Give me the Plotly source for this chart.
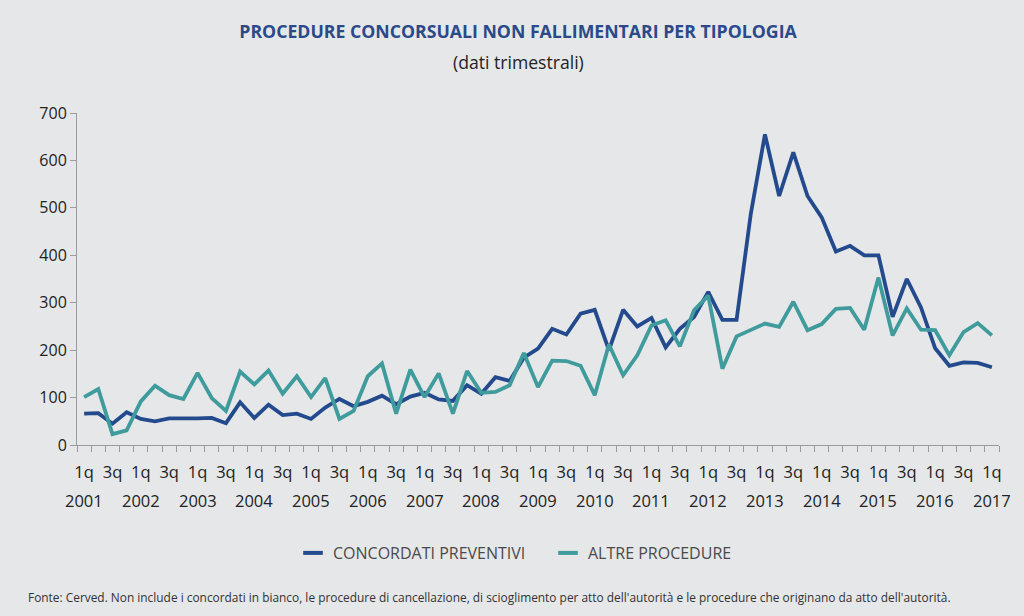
import plotly.graph_objects as go

# ---- data (quarterly, 2001 Q1 .. 2017 Q1) ----
years = list(range(2001, 2018))
quarters = [f"{y} Q{q}" for y in years for q in range(1, 5)][:65]

concordati_preventivi = [
    66, 67, 45, 69, 55, 50, 56, 55, 56, 57, 46, 90, 57, 85, 63, 66,
    55, 79, 97, 82, 91, 104, 86, 102, 110, 96, 93, 126, 108, 143, 135, 184,
    203, 245, 233, 277, 285, 200, 285, 250, 268, 206, 245, 270, 323, 264, 264, 487,
    655, 525, 617, 525, 480, 408, 420, 400, 400, 270, 350, 290, 204, 167, 174, 173,
    164,
]
altre_procedure = [
    101, 118, 23, 31, 92, 125, 105, 97, 152, 99, 72, 155, 128, 157, 108, 145,
    101, 141, 55, 72, 145, 172, 66, 159, 101, 151, 66, 156, 110, 112, 126, 194,
    122, 178, 177, 167, 105, 212, 147, 189, 252, 263, 208, 284, 315, 161, 229, 242,
    256, 249, 302, 242, 255, 287, 289, 243, 353, 231, 288, 243, 242, 189, 238, 257,
    231,
]
series_names = ["CONCORDATI PREVENTIVI", "ALTRE PROCEDURE"]
y_ticks = [0, 100, 200, 300, 400, 500, 600, 700]

# tick labels: every other quarter (1q / 3q), year under each 1q
tick_idx = list(range(0, len(quarters), 2))
tick_text = ["1q" if i % 4 == 0 else "3q" for i in tick_idx]
year_idx = list(range(0, len(quarters), 4))

BLUE = "#244a8e"
TEAL = "#3f9b9c"
BG = "#e6e7e8"
AXIS = "#9b9b9b"
FONT = "Open Sans"

# plot area in pixels: x 77..999, y 113..445
def py(pix):
    return (445 - pix) / 332

def px(pix):
    return (pix - 77) / 922

x = list(range(len(quarters)))

fig = go.Figure()
fig.add_trace(go.Scatter(x=x, y=concordati_preventivi, mode="lines", name=series_names[0],
                         text=quarters, line=dict(color=BLUE, width=3.8), showlegend=False))
fig.add_trace(go.Scatter(x=x, y=altre_procedure, mode="lines", name=series_names[1],
                         text=quarters, line=dict(color=TEAL, width=3.8), showlegend=False))
# legend entries (short dash swatches)
for nm, col in zip(series_names, [BLUE, TEAL]):
    fig.add_trace(go.Scatter(x=[None], y=[None], mode="markers", name=nm,
                             marker=dict(symbol="line-ew", size=14, color=col,
                                         line=dict(width=4, color=col))))

annotations = [
    dict(text="(dati trimestrali)", x=px(518), xref="paper", y=py(62), yref="paper",
         showarrow=False, font=dict(family=FONT, size=17.6, color="#222222"), yanchor="middle"),
    dict(text="Fonte: Cerved. Non include i concordati in bianco, le procedure di cancellazione, "
              "di scioglimento per atto dell'autorità e le procedure che originano da atto dell'autorità.",
         x=px(26), xref="paper", y=py(597), yref="paper", xanchor="left",
         yanchor="middle", showarrow=False, font=dict(family=FONT, size=11.9, color="#333333")),
]
for yi, idx in zip(years, year_idx):
    annotations.append(dict(text=str(yi), x=idx, xref="x", y=py(500), yref="paper",
                            showarrow=False, yanchor="middle",
                            font=dict(family=FONT, size=16.5, color="#222222")))

fig.update_layout(
    width=1024, height=616,
    paper_bgcolor=BG, plot_bgcolor=BG,
    margin=dict(l=77, r=25, t=113, b=171),
    font=dict(family=FONT, color="#222222"),
    title=dict(text="<b>PROCEDURE CONCORSUALI NON FALLIMENTARI PER TIPOLOGIA</b>",
               x=518 / 1024, xanchor="center", y=1 - 32 / 616, yanchor="middle", yref="container",
               font=dict(family=FONT, size=17.7, color="#2a4a8a")),
    legend=dict(orientation="h", x=px(293), xanchor="left", y=py(553),
                yanchor="middle", bgcolor="rgba(0,0,0,0)",
                font=dict(family=FONT, size=16, color="#4a4a4a"), entrywidth=210),
    annotations=annotations,
    xaxis=dict(range=[-0.5, len(quarters) - 0.5], showgrid=False, zeroline=False,
               showline=True, linecolor=AXIS, linewidth=1,
               tickmode="array", tickvals=tick_idx, ticktext=tick_text, ticks="",
               ticklabelstandoff=12,
               tickfont=dict(family=FONT, size=16.5, color="#222222"),
               minor=dict(tickmode="linear", tick0=-0.5, dtick=1, ticks="outside",
                          ticklen=6, tickcolor=AXIS, tickwidth=1, showgrid=False)),
    yaxis=dict(range=[0, 700], tickvals=y_ticks, showgrid=False, zeroline=False,
               showline=True, linecolor=AXIS, linewidth=1, ticks="outside", ticklen=6,
               tickcolor=AXIS, tickfont=dict(family=FONT, size=16, color="#222222")),
)

fig.write_html("out.html")
